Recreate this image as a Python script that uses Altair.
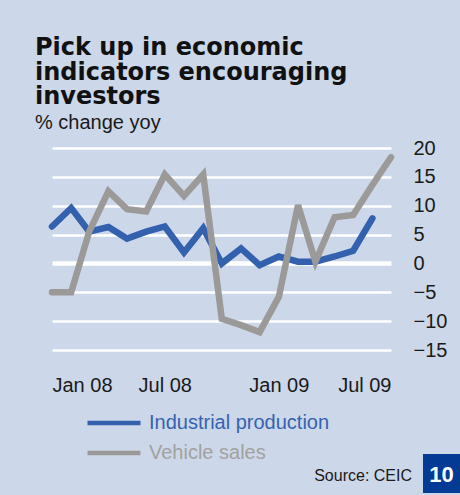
import altair as alt
import pandas as pd

months = pd.date_range("2008-01-01", "2009-07-01", freq="MS")
industrial = [6.4, 9.6, 5.5, 6.3, 4.3, 5.5, 6.4, 1.9, 6.1, 0.0, 2.6, -0.3,
              1.2, 0.3, 0.3, 1.2, 2.2, 7.8, None]
vehicle = [-5.0, -5.0, 5.5, 12.5, 9.4, 9.0, 15.4, 11.7, 15.4, -9.6, -10.7, -11.9,
           -5.8, 10.1, 0.3, 8.0, 8.4, 13.6, 18.4]
series_names = ["Industrial production", "Vehicle sales"]
series_colors = ["#3461AE", "#9C9A98"]
label_colors = ["#3563B0", "#A3A19F"]
y_ticks = [-15, -10, -5, 0, 5, 10, 15, 20]
x_ticks = ["2008-01-01", "2008-07-01", "2009-01-01", "2009-07-01"]

rows = []
for d, a, b in zip(months, industrial, vehicle):
    if a is not None:
        rows.append({"date": d, "series": series_names[0], "value": a})
    rows.append({"date": d, "series": series_names[1], "value": b})
df = pd.DataFrame(rows)

bg = "#CCD7E9"
txt = "#1A1A1A"

lines = alt.Chart(df).mark_line(strokeWidth=6.5, strokeCap="round").encode(
    x=alt.X("date:T",
            scale=alt.Scale(domain=["2008-01-01", "2009-07-01"]),
            axis=alt.Axis(title=None, format="%b %y", values=x_ticks,
                          labelFont="Liberation Sans", labelFontSize=20,
                          labelColor=txt, labelPadding=25, ticks=False,
                          domain=False, grid=False)),
    y=alt.Y("value:Q",
            scale=alt.Scale(domain=[-15, 20], nice=False, zero=False),
            axis=alt.Axis(title=None, orient="right", values=y_ticks,
                          labelFont="Liberation Sans", labelFontSize=20,
                          labelColor=txt, labelPadding=22, ticks=False,
                          domain=False, grid=True, gridColor="white",
                          gridOpacity=1,
                          gridWidth={"condition": {"test": "datum.value === 0", "value": 4.5}, "value": 2.5})),
    color=alt.Color("series:N",
                    scale=alt.Scale(domain=series_names, range=series_colors),
                    legend=alt.Legend(title=None, orient="none", legendX=33, legendY=265,
                                      symbolType="stroke", symbolSize=2809,
                                      symbolStrokeWidth=4.5, labelFont="Liberation Sans",
                                      labelFontSize=20, labelLimit=300, labelOffset=6,
                                      clipHeight=20, rowPadding=10,
                                      labelColor={"expr": "datum.label === 'Vehicle sales' ? '%s' : '%s'" % (label_colors[1], label_colors[0])})),
)

source = alt.Chart(pd.DataFrame({"t": ["Source: CEIC"]})).mark_text(
    font="Liberation Sans", fontSize=16, color=txt, align="right", baseline="alphabetic"
).encode(text="t:N", x=alt.value(360), y=alt.value(333))

box = alt.Chart(pd.DataFrame({"t": ["10"]})).mark_rect(color="#033B94").encode(
    x=alt.value(371), x2=alt.value(408), y=alt.value(306), y2=alt.value(345))

box_text = alt.Chart(pd.DataFrame({"t": ["10"]})).mark_text(
    font="Liberation Sans", fontSize=22, fontWeight="bold", color="white",
    align="center", baseline="middle"
).encode(text="t:N", x=alt.value(389.5), y=alt.value(327))

chart = alt.layer(lines, source, box, box_text).properties(
    width=339, height=202,
    background=bg,
    padding={"left": 52, "top": 148, "right": 69, "bottom": 145},
    autosize=alt.AutoSizeParams(type="none"),
    title=alt.TitleParams(
        text=["Pick up in economic", "indicators encouraging", "investors"],
        subtitle="% change yoy",
        anchor="start", frame="group", dx=-17, offset=5,
        font="DejaVu Sans", fontSize=24, fontWeight="bold", color="#111111",
        lineHeight=24.5,
        subtitleFont="Liberation Sans", subtitleFontSize=20, subtitleColor=txt,
        subtitlePadding=4,
    ),
).configure_view(stroke=None)

chart.save("out.html", embed_options={"renderer": "svg", "actions": False})
